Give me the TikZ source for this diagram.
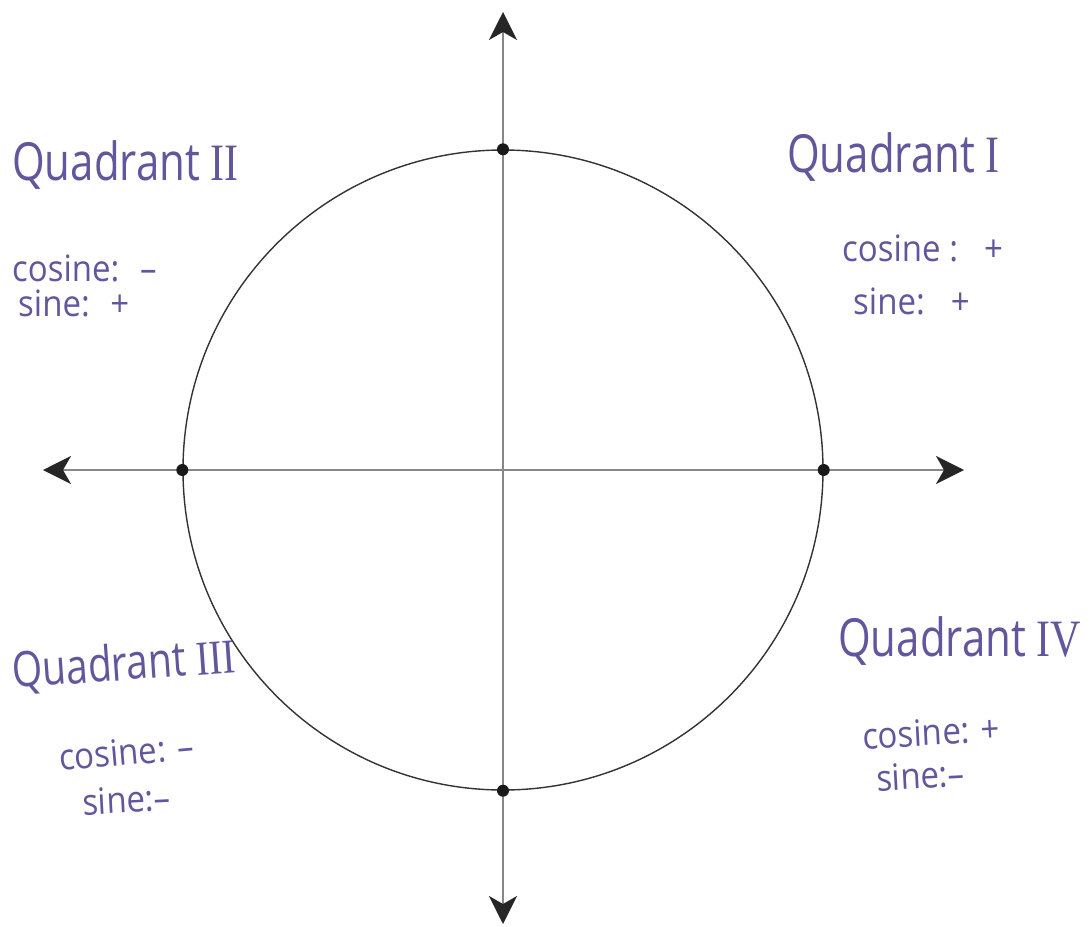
\documentclass[tikz,border=0pt]{standalone}
\usepackage{fontspec}
\setmainfont{Open Sans}
\newfontfamily\numfont{Liberation Serif}
\usetikzlibrary{arrows.meta}
\definecolor{ink}{RGB}{98,86,156}
\definecolor{axisgray}{RGB}{135,135,135}
\newcommand{\tall}[1]{\scalebox{1}[1.25]{#1}}
\newcommand{\taller}[1]{\scalebox{1}[1.1]{#1}}
\tikzset{
  axisline/.style={axisgray, line width=2.2pt, -{Stealth[length=28pt,width=28pt,inset=8pt,color=black!85]}},
  unitcircle/.style={draw=black!80, line width=1.4pt, circle, minimum size=640pt, inner sep=0pt},
  pt/.style={fill=black!90, circle, minimum size=12pt, inner sep=0pt},
  quadlabel/.style={text=ink, font=\fontsize{42}{44}\selectfont, inner sep=0pt},
  signlabel/.style={text=ink, font=\fontsize{33}{35}\selectfont, inner sep=0pt},
}
\begin{document}
\begin{tikzpicture}[x=1pt,y=-1pt]
\useasboundingbox (0,0) rectangle (1091,926);
\fill[white] (0,0) rectangle (1091,926);
\node[unitcircle] (C) at (503,470) {};
\coordinate (O) at (503,470);
\coordinate (L) at (43,470);
\coordinate (R) at (964,470);
\coordinate (T) at (503,12);
\coordinate (B) at (503,924);
\draw[axisline] (O) -- (L);
\draw[axisline] (O) -- (R);
\draw[axisline] (O) -- (T);
\draw[axisline] (O) -- (B);
\node[pt] (p0) at (C.east) {};
\node[pt] (p90) at (C.north) {};
\node[pt] (p180) at (C.west) {};
\node[pt] (p270) at (C.south) {};
% Quadrant labels
\node[quadlabel, anchor=base west] (q2) at (12,180) {\tall{Quadrant {\numfont II}}};
\node[quadlabel, anchor=base west] (q1) at (787,172) {\tall{Quadrant {\numfont I}}};
\node[quadlabel, anchor=base west, rotate=4, font=\fontsize{39}{41}\selectfont] (q3) at (13,688) {\tall{Quadrant {\numfont III}}};
\node[quadlabel, anchor=base west] (q4) at (838,656) {\tall{Quadrant {\numfont IV}}};
% sign labels
\node[signlabel, anchor=base west] (s2a) at (12,281) {\taller{cosine:\; –}};
\node[signlabel, anchor=base west] (s2b) at (18,316) {\taller{sine:\; +}};
\node[signlabel, anchor=base west] (s1a) at (842,261) {\taller{cosine :\;\, +}};
\node[signlabel, anchor=base west] (s1b) at (853,314) {\taller{sine:\;\, +}};
\node[signlabel, anchor=base west, rotate=5] (s3a) at (60,771) {\taller{cosine: –}};
\node[signlabel, anchor=base west, rotate=3] (s3b) at (83,815) {\taller{sine:–}};
\node[signlabel, anchor=base west, rotate=3] (s4a) at (863,749) {\taller{cosine: +}};
\node[signlabel, anchor=base west, rotate=3] (s4b) at (877,791) {\taller{sine:–}};
\end{tikzpicture}
\end{document}
